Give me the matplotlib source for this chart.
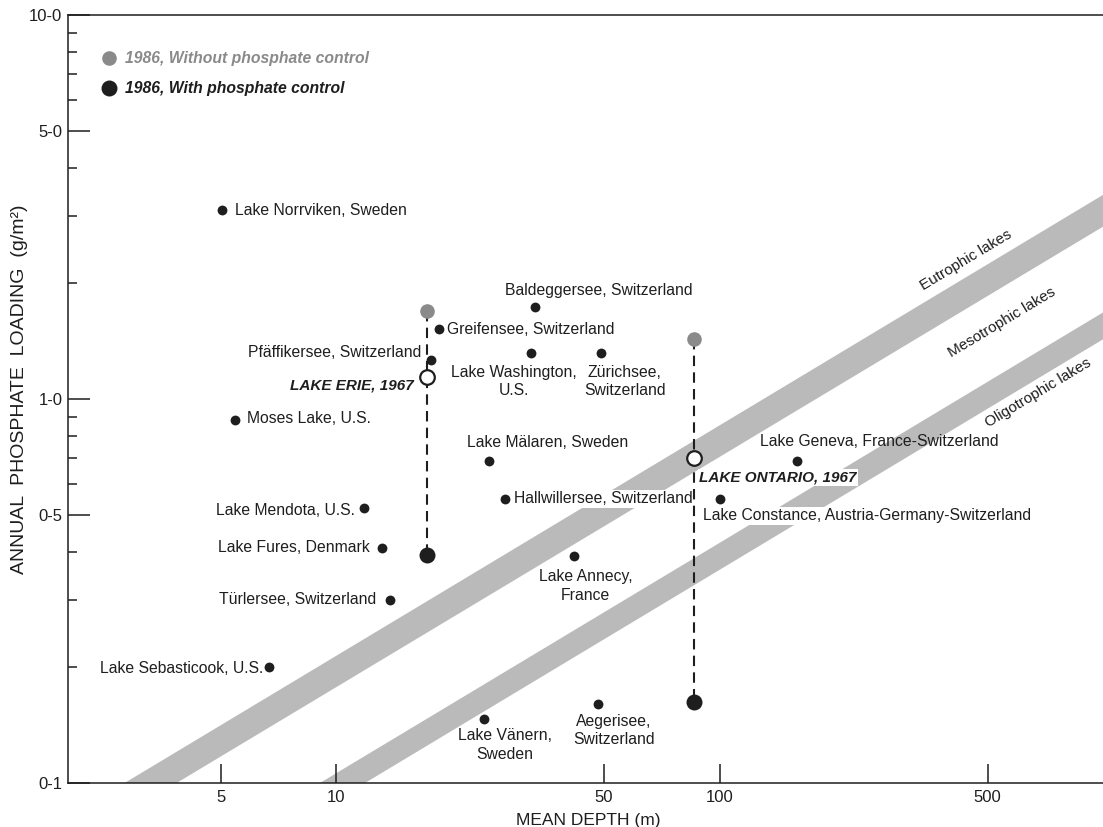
import matplotlib
matplotlib.use("Agg")
import matplotlib.pyplot as plt
from matplotlib.lines import Line2D

plt.rcParams['font.family'] = ['Liberation Sans', 'DejaVu Sans']
plt.rcParams['font.size'] = 11.3

# lakes (mean depth m, annual phosphate loading g/m2)
lake_names = ["Lake Norrviken, Sweden", "Moses Lake, U.S.", "Lake Mendota, U.S.",
              "Lake Fures, Denmark", "Türlersee, Switzerland", "Lake Sebasticook, U.S.",
              "Greifensee, Switzerland", "Pfäffikersee, Switzerland", "Baldeggersee, Switzerland",
              "Lake Washington,\nU.S.", "Zürichsee,\nSwitzerland", "Lake Mälaren, Sweden",
              "Hallwillersee, Switzerland", "Lake Annecy,\nFrance", "Lake Vänern,\nSweden",
              "Aegerisee,\nSwitzerland", "Lake Geneva, France-Switzerland",
              "Lake Constance, Austria-Germany-Switzerland"]
lake_depth = [5.05, 5.45, 11.8, 13.2, 13.8, 6.7, 18.6, 17.7, 33.0, 32.3, 49.0, 25.0,
              27.5, 41.7, 24.3, 48.2, 159, 100]
lake_loading = [3.1, 0.88, 0.52, 0.41, 0.30, 0.20, 1.52, 1.26, 1.74, 1.32, 1.32, 0.69,
                0.55, 0.39, 0.147, 0.161, 0.69, 0.55]

# Lake Erie and Lake Ontario
big_names = ["LAKE ERIE, 1967", "LAKE ONTARIO, 1967"]
big_depth = [17.3, 86]
big_1967 = [1.14, 0.70]
big_1986_without = [1.69, 1.43]
big_1986_with = [0.393, 0.163]

# trophic bands: corner points (depth, loading)
eu_band_x = [2.81, 1000, 1000, 3.84]
eu_band_y = [0.1, 3.40, 2.81, 0.1]
meso_band_x = [9.08, 1000, 1000, 11.9]
meso_band_y = [0.1, 1.68, 1.43, 0.1]
band_labels = ["Eutrophic lakes", "Mesotrophic lakes", "Oligotrophic lakes"]
band_label_x = [440, 545, 676]
band_label_y = [2.30, 1.58, 1.04]

yticks = [0.1, 0.5, 1.0, 5.0, 10.0]
ytick_labels = ["0-1", "0-5", "1-0", "5-0", "10-0"]
yminor = [0.2, 0.3, 0.4, 0.6, 0.7, 0.8, 0.9, 2, 3, 4, 6, 7, 8, 9]
xticks = [5, 10, 50, 100, 500]
xtick_labels = ["5", "10", "50", "100", "500"]

# label offsets in pixels (dx, dy, ha)
label_pos = [(13, 0, 'left'), (12, 2, 'left'), (-9, -2, 'right'), (-13, 0, 'right'),
             (-13, 0, 'right'), (-6, -1, 'right'), (8, 0, 'left'), (-10, 8, 'right'),
             (-30, 16, 'left'), (-17, -29, 'center'), (24, -29, 'center'), (-22, 18, 'left'),
             (9, 0, 'left'), (12, -30, 'center'), (21, -26, 'center'), (16, -27, 'center'),
             (-37, 19, 'left'), (-17, -17, 'left')]
white_box = ["Hallwillersee, Switzerland", "Lake Constance, Austria-Germany-Switzerland"]
big_pos = [(-14, -8, 'right'), (5, -19, 'left')]

ink = '#1e1e1e'
grey = '#8a8a8a'

fig = plt.figure(figsize=(11.03, 8.27), dpi=100)
ax = fig.add_axes([68/1103, 1 - 783/827, 1 - 68/1103, (783 - 15)/827])
ax.set_xscale('log')
ax.set_yscale('log')
ax.set_xlim(2, 1000)
ax.set_ylim(0.1, 10)

ax.fill(eu_band_x, eu_band_y, color='#bababa', lw=0, zorder=1)
ax.fill(meso_band_x, meso_band_y, color='#bababa', lw=0, zorder=1)
for t, x, y in zip(band_labels, band_label_x, band_label_y):
    ax.text(x, y, t, rotation=31, ha='center', va='center', fontsize=11,
            color=ink, rotation_mode='anchor')

ax.scatter(lake_depth, lake_loading, s=50, color=ink, zorder=4, linewidths=0)
for name, x, y, (dx, dy, ha) in zip(lake_names, lake_depth, lake_loading, label_pos):
    kw = {}
    if name in white_box:
        kw['bbox'] = dict(facecolor='white', edgecolor='none', pad=1)
    ax.annotate(name, (x, y), xytext=(dx, dy), textcoords='offset pixels',
                ha=ha, va='center', multialignment='center', linespacing=1.3,
                color=ink, zorder=3, **kw)

for i in range(len(big_names)):
    x = big_depth[i]
    ax.plot([x, x], [big_1986_without[i], big_1986_with[i]], ls=(0, (5, 3)), lw=1.5,
            color=ink, zorder=3)
    ax.plot(x, big_1986_without[i], 'o', ms=10.5, color=grey, mec='none', zorder=5)
    ax.plot(x, big_1986_with[i], 'o', ms=11.5, color=ink, mec='none', zorder=5)
    ax.plot(x, big_1967[i], 'o', ms=10.5, mfc='white', mec=ink, mew=1.6, zorder=6)
    dx, dy, ha = big_pos[i]
    kw = {}
    if i == 1:
        kw['bbox'] = dict(facecolor='white', edgecolor='none', pad=1)
    ax.annotate(big_names[i], (x, big_1967[i]), xytext=(dx, dy), textcoords='offset pixels',
                ha=ha, va='center', color=ink, fontweight='bold', fontsize=11,
                fontstyle='italic', zorder=4, **kw)

handles = [Line2D([], [], ls='none', marker='o', ms=10.5, color=grey, mec='none'),
           Line2D([], [], ls='none', marker='o', ms=11.5, color=ink, mec='none')]
leg = ax.legend(handles, ["1986, Without phosphate control", "1986, With phosphate control"],
                loc='upper left', bbox_to_anchor=(0.032, 0.953), frameon=False,
                handlelength=1.0, handletextpad=0.5, labelspacing=0.95, borderaxespad=0,
                borderpad=0)
for txt, c in zip(leg.get_texts(), [grey, ink]):
    txt.set_color(c)
    txt.set_fontstyle('italic')
    txt.set_fontweight('bold')
    txt.set_fontsize(11.3)

ax.set_yticks(yticks)
ax.set_yticklabels(ytick_labels)
ax.set_yticks(yminor, minor=True)
ax.set_xticks(xticks)
ax.set_xticklabels(xtick_labels)
ax.xaxis.set_minor_locator(matplotlib.ticker.NullLocator())
ax.yaxis.set_minor_formatter(matplotlib.ticker.NullFormatter())
ax.tick_params(axis='y', which='major', direction='in', length=16, width=1.1,
               pad=4, labelsize=12, colors=ink)
ax.tick_params(axis='y', which='minor', direction='in', length=6.5, width=1.1, colors=ink)
ax.tick_params(axis='x', which='major', direction='in', length=14, width=1.1,
               pad=5, labelsize=12, colors=ink)
for s in ['left', 'bottom', 'top']:
    ax.spines[s].set_linewidth(1.1)
    ax.spines[s].set_color(ink)
ax.spines['right'].set_visible(False)

ax.set_xlabel("MEAN DEPTH (m)", fontsize=12.5, color=ink)
ax.set_ylabel("ANNUAL  PHOSPHATE  LOADING  (g/m²)", fontsize=14, color=ink)
ax.xaxis.set_label_coords((588 - 68) / 1035, -(820 - 783) / 768)
ax.yaxis.set_label_coords(-(68 - 20) / 1035, (783 - 389) / 768)
ax.xaxis.label.set_va('center')
ax.yaxis.label.set_va('center')

fig.savefig("out.png", dpi=100)
